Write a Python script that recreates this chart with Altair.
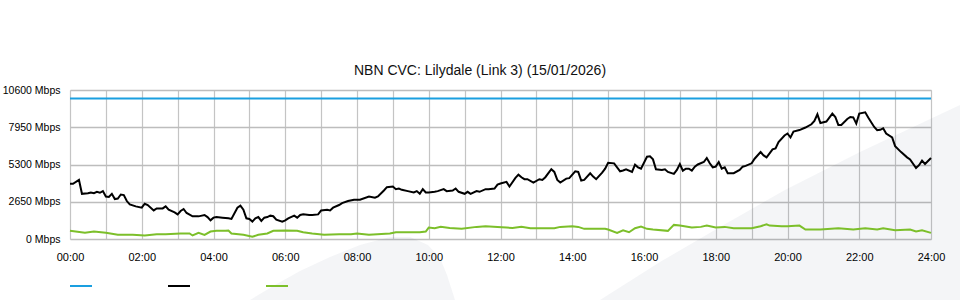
import altair as alt
import pandas as pd
from urllib.parse import quote

TITLE = "NBN CVC: Lilydale (Link 3) (15/01/2026)"
SERIES = ["Capacity", "Inbound", "Outbound"]
COLORS = ["#1a9fe0", "#000000", "#7cbf2a"]

# minutes after midnight, values in Mbps
capacity_min = [0, 1440]
capacity_val = [10000, 10000]

in_min = [0, 5, 15, 20, 30, 35, 40, 45, 50, 55, 60, 65, 70, 75, 80, 85, 90, 95, 100, 110,
          120, 125, 130, 140, 145, 155, 160, 165, 175, 180, 185, 190, 195, 205, 215, 225, 230, 235,
          240, 245, 255, 265, 270, 280, 285, 290, 295, 300, 305, 310, 315, 320, 325, 330, 335, 340,
          345, 355, 360, 365, 375, 380, 385, 390, 400, 405, 415, 420, 430, 435, 440, 450, 455, 465,
          475, 485, 500, 510, 515, 525, 530, 540, 545, 550, 555, 565, 575, 580, 585, 590, 595, 600,
          610, 615, 625, 630, 640, 645, 650, 660, 665, 670, 680, 685, 695, 700, 710, 715, 720, 730,
          735, 745, 750, 755, 760, 765, 775, 785, 790, 795, 805, 810, 815, 820, 830, 835, 845, 850,
          855, 860, 870, 875, 880, 890, 895, 900, 910, 920, 925, 930, 940, 945, 950, 955, 965, 970,
          975, 980, 990, 995, 1000, 1010, 1015, 1020, 1025, 1030, 1035, 1040, 1045, 1050, 1060, 1065,
          1070, 1075, 1080, 1085, 1090, 1095, 1100, 1110, 1120, 1125, 1130, 1140, 1145, 1155, 1160,
          1165, 1175, 1180, 1185, 1195, 1200, 1205, 1210, 1220, 1230, 1240, 1245, 1250, 1255, 1265,
          1275, 1280, 1285, 1290, 1300, 1305, 1310, 1315, 1320, 1330, 1335, 1345, 1350, 1355, 1360,
          1365, 1375, 1380, 1390, 1400, 1405, 1415, 1420, 1425, 1430, 1440]
in_val = [3922, 3922, 4205, 3215, 3250, 3308, 3260, 3357, 3290, 3406, 3025, 2990, 3215, 2840, 2880, 3166, 3120, 2700, 2460, 2320,
          2226, 2509, 2420, 2035, 2177, 2177, 2320, 2085, 1894, 1752, 1990, 2134, 1850, 1611, 1611, 1710, 1560, 1329,
          1519, 1569, 1520, 1470, 1428, 2226, 2367, 2085, 1470, 1420, 1237, 1470, 1560, 1286, 1519, 1560, 1660, 1620,
          1378, 1237, 1330, 1470, 1660, 1520, 1710, 1752, 1710, 1710, 1752, 2035, 2085, 2035, 2226, 2417, 2558, 2700,
          2791, 2791, 3025, 2933, 3025, 3449, 3689, 3731, 3547, 3590, 3498, 3406, 3310, 3406, 3215, 3547, 3308, 3308,
          3357, 3406, 3547, 3406, 3450, 3590, 3357, 3215, 3357, 3215, 3406, 3357, 3547, 3547, 3590, 3873, 3950, 4063,
          3731, 4346, 4579, 4395, 4254, 4254, 4014, 4254, 4200, 4395, 4961, 4770, 4205, 4014, 4296, 4330, 4819, 4770,
          4155, 4200, 4678, 4438, 4254, 4720, 5003, 5427, 5380, 4819, 4870, 4961, 4770, 5286, 5100, 5003, 5851, 5880,
          5666, 4961, 4911, 4961, 4770, 4629, 4911, 5335, 4862, 5003, 5003, 4862, 5145, 5300, 5477, 5759,
          5385, 5102, 5150, 5477, 5003, 5100, 4678, 4678, 4911, 5145, 5200, 5385, 5712, 6183, 5948,
          5807, 6374, 6450, 6890, 7363, 7505, 7222, 7646, 7750, 7929, 8162, 8395, 8869, 8254, 8353,
          8918, 8678, 8113, 8113, 8537, 8678, 8650, 8211, 8918, 9010, 8636, 7971, 7738, 7770, 7879,
          7505, 7222, 6607, 6183, 5807, 5666, 5053, 5250, 5571, 5335, 5759]

out_min = [0, 25, 40, 60, 80, 105, 125, 145, 160, 185, 200, 205, 215, 225, 235, 245, 260, 265, 270,
           290, 305, 315, 330, 340, 360, 380, 390, 405, 425, 450, 470, 480, 500, 535, 545, 585, 595,
           600, 610, 620, 635, 655, 680, 695, 715, 730, 740, 755, 770, 810, 820, 840, 850, 860, 895,
           900, 915, 925, 935, 945, 955, 965, 975, 1000, 1010, 1020, 1040, 1055, 1065, 1080, 1095,
           1110, 1140, 1155, 1165, 1170, 1190, 1200, 1220, 1230, 1255, 1285, 1310, 1330, 1350, 1360,
           1380, 1405, 1415, 1425, 1440]
out_val = [579, 438, 530, 438, 297, 297, 250, 339, 339, 389, 389, 250, 438, 297, 530, 579, 579, 600, 389,
           297, 155, 297, 389, 579, 600, 579, 480, 389, 297, 339, 339, 389, 297, 389, 480, 480, 530,
           813, 763, 862, 780, 721, 862, 905, 862, 813, 780, 862, 763, 763, 862, 905, 862, 721, 721,
           671, 438, 622, 480, 763, 880, 721, 671, 579, 1003, 954, 813, 862, 954, 813, 862,
           763, 763, 905, 1046, 954, 905, 905, 954, 671, 671, 763, 671, 763, 671, 763,
           622, 671, 530, 622, 438]

y_ticks = [0, 2650, 5300, 7950, 10600]
x_ticks = list(range(0, 25))

rows = []
for name, mins, vals in [(SERIES[0], capacity_min, capacity_val),
                         (SERIES[1], in_min, in_val),
                         (SERIES[2], out_min, out_val)]:
    for m, v in zip(mins, vals):
        rows.append({"series": name, "hour": m / 60.0, "value": v})
df = pd.DataFrame(rows)

FONT = "Liberation Sans"

# faint decorative background swoosh (page watermark), covering the lower part of the page
svg = ("<svg xmlns='http://www.w3.org/2000/svg' width='960' height='200'>"
       "<g transform='translate(0,-100)'>"
       "<path fill='rgb(30,50,90)' fill-opacity='0.05' d='"
       "M600,300 L660,262 L720,227 L785,190 L860,152 L960,105 L960,300 Z "
       "M250,300 L275,285 L300,271 L330,257 L360,245 L390,237 L410,237 L428,245 "
       "L440,258 L447,275 L455,300 Z'/></g></svg>")
watermark = alt.Chart(pd.DataFrame({"k": [0]})).mark_image(
    url="data:image/svg+xml;charset=utf-8," + quote(svg),
    width=960, height=200, align="left", baseline="top", aspect=False
).encode(x=alt.value(-70), y=alt.value(10))

lines = alt.Chart(df).mark_line(strokeWidth=2).encode(
    x=alt.X("hour:Q",
            scale=alt.Scale(domain=[0, 24], nice=False, zero=False),
            axis=alt.Axis(values=x_ticks, title=None, grid=True, ticks=False, domain=False,
                          labelExpr="datum.value % 2 == 0 ? (datum.value < 10 ? '0' : '') + datum.value + ':00' : ''",
                          labelOverlap=False, labelFlush=False, labelPadding=12, labelFontSize=11,
                          gridColor="#c4c4c4", gridWidth=1.2)),
    y=alt.Y("value:Q",
            scale=alt.Scale(domain=[0, 10600], nice=False),
            axis=alt.Axis(values=y_ticks, title=None, grid=True, ticks=False, domain=False,
                          labelExpr="datum.value + ' Mbps'", labelPadding=10, labelFontSize=10.5,
                          gridColor="#bdbdbd", gridWidth=1.6)),
    color=alt.Color("series:N",
                    scale=alt.Scale(domain=SERIES, range=COLORS),
                    title=None,
                    legend=alt.Legend(orient="none", legendX=-1, legendY=184, direction="horizontal",
                                      symbolType="stroke", symbolSize=484, symbolStrokeWidth=2,
                                      labelExpr="''", labelOffset=0, columnPadding=68, padding=0)),
)

chart = alt.layer(watermark, lines).properties(
    width=861,
    height=149,
    autosize=alt.AutoSizeParams(type="none"),
    padding={"left": 70, "top": 90, "right": 29, "bottom": 61},
    title=alt.TitleParams(TITLE, fontSize=14, font=FONT, fontWeight="normal", color="#111",
                          anchor="middle", frame="group", dx=-20.5, offset=7),
).configure_view(stroke=None).configure_axis(
    labelFont=FONT, labelColor="#222"
).configure(background="white")

chart.save("out.html", embed_options={"renderer": "svg", "actions": False})
